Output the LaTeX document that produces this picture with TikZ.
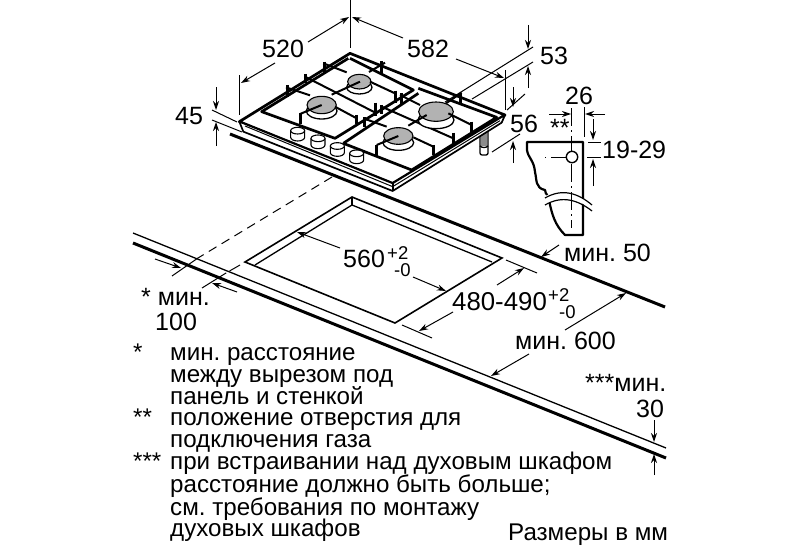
\documentclass[tikz,border=0pt]{standalone}
\usepackage{fontspec}
\setmainfont{Liberation Sans}
\usetikzlibrary{arrows.meta}
\frenchspacing
\tikzset{
  dim/.style={line width=1pt,-{Stealth[length=9pt,width=6pt]}},
  ext/.style={line width=1pt},
  thin edge/.style={line width=1.3pt},
  thick edge/.style={line width=3pt},
  hobline/.style={line width=1.7pt,line join=round},
  hobthick/.style={line width=2.7pt,line join=round},
  bar/.style={line width=2pt},
  tab/.style={line width=3pt},
  burner/.style={draw=black,line width=1.1pt,fill=black!30},
  big/.style={font=\fontsize{25}{25}\selectfont,inner sep=0pt,anchor=base west},
  wide/.style={font=\fontsize{25.8}{25.8}\selectfont,inner sep=0pt,anchor=base west},
  small/.style={font=\fontsize{18.5}{18.5}\selectfont,inner sep=0pt,anchor=base west},
  body/.style={font=\fontsize{24.15}{24.15}\selectfont,inner sep=0pt,anchor=base west},
}
\begin{document}
\begin{tikzpicture}[x=1pt,y=-1pt]
\useasboundingbox (0,0) rectangle (800,551);
\fill[white] (0,0) rectangle (800,551);
% foot
\draw[line width=1.3pt,fill=white,rounded corners=2pt] (480,133) -- (480,155) -- (488,155) -- (488,131);
\fill[black!45] (481,133) rectangle (487,146);
\draw[line width=1.3pt] (480,146) .. controls (482,148) and (486,148) .. (488,146);
% ---------- hob, in crop coordinates
\begin{scope}[shift={(200,10)},x=0.33333pt,y=-0.33333pt]
  \draw[hobthick,fill=white] (118,335) -- (450,130) -- (915,315) -- (578,520) -- cycle;
  \draw[hobline,fill=white] (118,335) -- (130,365) -- (578,543) -- (905,338) -- (915,315) -- (578,520) -- cycle;
  \draw[hobline] (578,520) -- (578,543);
  \draw[line width=1pt] (135,348) -- (578,530) -- (900,332);
  % left grate
  \draw[hobthick] (445,145) -- (185,305) -- (405,385) -- (640,240) -- (450,145);
  % right grate
  \draw[hobthick] (655,235) -- (890,322) -- (635,480) -- (430,400);
  \draw[hobthick] (430,400) -- (655,250);
  % bars
  \draw[bar] (315,200) -- (530,310);
  \draw[tab] (315,192) -- (315,218);
  \draw[tab] (525,278) -- (525,318);
  \draw[bar] (370,160) -- (440,187);
  \draw[tab] (372,155) -- (372,192);
  \draw[tab] (585,242) -- (585,278);
  \draw[bar] (258,232) -- (330,256);
  \draw[tab] (262,225) -- (262,262);
  \draw[tab] (470,315) -- (470,342);
  \draw[bar] (555,158) -- (507,186);
  \draw[tab] (545,153) -- (545,192);
  \draw[tab] (300,310) -- (300,342);
  \draw[bar] (490,325) -- (560,350);
  \draw[tab] (492,322) -- (492,352);
  \draw[bar] (545,290) -- (760,385);
  \draw[tab] (545,285) -- (545,312);
  \draw[tab] (760,368) -- (760,402);
  \draw[bar] (600,255) -- (660,285);
  \draw[tab] (605,250) -- (605,285);
  \draw[tab] (815,335) -- (815,365);
  \draw[tab] (700,405) -- (700,435);
  \draw[bar] (785,248) -- (738,280);
  \draw[tab] (780,248) -- (780,286);
  \draw[tab] (530,405) -- (530,437);
  % burner rings and caps
  \foreach \x/\y/\rx/\ry in {478/232/38/20,365/303/46/24,708/330/54/26,595/398/46/23}{
    \draw[line width=1.3pt,fill=white] (\x,\y) ellipse[x radius=\rx,y radius=\ry];
  }
  \draw[burner] (478,215) ellipse[x radius=35,y radius=22];
  \draw[burner] (365,285) ellipse[x radius=44,y radius=26];
  \draw[burner] (708,305) ellipse[x radius=52,y radius=29];
  \draw[burner] (595,378) ellipse[x radius=44,y radius=25];
  \draw[bar] (480,215) -- (395,254);
  \draw[bar] (365,285) -- (300,312);
  \draw[bar] (680,315) -- (625,347);
  \draw[bar] (595,378) -- (530,405);
  \draw[bar] (745,310) -- (815,345);
  \draw[bar] (510,215) -- (585,250);
  \draw[bar] (405,290) -- (470,325);
  \draw[bar] (640,382) -- (700,410);
  % knobs
  \foreach \x/\y in {293/372,354/395,412/418,470/440}{
    \draw[line width=1.1pt,fill=white] (\x-21,\y-10) -- (\x-21,\y+10)
       arc[start angle=180,end angle=360,x radius=21,y radius=-11] -- (\x+21,\y-10);
    \draw[line width=1.1pt,fill=white] (\x,\y-10) ellipse[x radius=21,y radius=10];
  }
\end{scope}
% ---------- hob dimensions
\draw[ext] (350,0) -- (350,48);
\draw[ext] (239,75) -- (239,115);
\draw[ext] (505,70) -- (505,110);
\draw[dim] (308,42) -- (349,17);
\draw[dim] (275,63) -- (241,83);
\draw[dim] (403,38) -- (352,17);
\draw[dim] (456,59) -- (504,78);
\draw[ext] (445,102) -- (533,47);
\draw[ext] (472,99) -- (533,62);
\draw[dim] (528,25) -- (528,49);
\draw[dim] (528,88) -- (528,66);
\draw[ext] (507,110) -- (525,94);
\draw[ext] (492,152) -- (520,134);
\draw[dim] (513,87) -- (513,107);
\draw[dim] (513,163) -- (513,141);
\draw[ext] (212,110) -- (237,122);
\draw[ext] (212,120) -- (242,132);
\draw[dim] (216,87) -- (216,110);
\draw[dim] (216,146) -- (216,122);
\node[big] (t520) at (262,58) {520};
\node[big] (t582) at (407,58) {582};
\node[big] (t53) at (540,64) {53};
\node[big] (t56) at (510,132) {56};
\node[big] (t45) at (175,124) {45};
% ---------- section
\draw[line width=2.2pt,line join=round] (527,142) -- (583,142) -- (583,235) -- (565,235)
  .. controls (555,225) and (552,215) .. (549,200) .. controls (547,192) and (546,196) .. (545,190)
  .. controls (535,188) and (537,180) .. (535,172) .. controls (534,160) and (528,158) .. (527,150) -- cycle;
\fill[white] (543,197) .. controls (565,186) and (580,195) .. (592,205) -- (592,211) .. controls (580,200) and (565,192) .. (545,205) -- cycle;
\draw[line width=1.2pt] (545,198) .. controls (562,188) and (578,193) .. (592,205);
\draw[line width=1.2pt] (545,205) .. controls (562,195) and (578,200) .. (592,211);
\draw[ext,dash pattern=on 18pt off 4pt on 2pt off 4pt] (571.5,108) -- (571.5,228);
\draw[ext] (545,157) -- (546,157);
\draw[ext] (551,157) -- (567,157);
\draw[line width=1.4pt,fill=white] (572,157) circle[radius=5.7];
\draw[ext] (584,107) -- (584,137);
\draw[dim] (549,114) -- (571,114);
\draw[dim] (605,114) -- (585,114);
\draw[ext] (588,142) -- (601,142);
\draw[ext] (587,157) -- (601,157);
\draw[dim] (593,119) -- (593,140);
\draw[dim] (593,186) -- (593,159);
\node[big] (t26) at (565,104) {26};
\node[big] (tss) at (550,136) {**};
\node[big] (t1929) at (602,158) {19-29};
% ---------- worktop
\draw[thick edge] (230,134) -- (665,307);
\draw[thin edge] (133,233) -- (666,448);
\draw[thick edge] (133,243) -- (666,458);
\draw[line width=1.6pt] (352,197) -- (245,262) -- (395,323) -- (502,258) -- cycle;
\draw[line width=1.3pt] (255,265) -- (352,205) -- (492,262);
\draw[line width=1.3pt] (352,197) -- (352,205);
\draw[ext,dash pattern=on 9pt off 6pt] (332,177) -- (198,258);
\draw[ext] (198,258) -- (172,276);
\draw[ext,dash pattern=on 12pt off 4pt] (240,265) -- (226,273);
\draw[ext] (226,273) -- (202,288);
\draw[dim] (155,259) -- (181,268);
\draw[dim] (237,292) -- (212,283);
\draw[dim] (340,248) -- (297,232);
\draw[dim] (413,277) -- (446,291);
\draw[ext] (506,260) -- (537,273);
\draw[ext] (402,325) -- (432,338);
\draw[dim] (497,285) -- (524,268);
\draw[dim] (453,312) -- (419,331);
\draw[dim] (565,330) -- (626,293);
\draw[dim] (529,354) -- (491,376);
\draw[dim] (559,245) -- (541,257);
\draw[dim] (654,420) -- (654,442);
\draw[dim] (654,475) -- (654,454);
\node[big] (t560) at (343,267) {560};
\node[small] (tp2a) at (387,259) {+2};
\node[small] (tm0a) at (394,276) {-0};
\node[wide] (t480) at (452,310) {480-490};
\node[small] (tp2b) at (548,301) {+2};
\node[small] (tm0b) at (559,318) {-0};
\node[big] (tm50) at (564,261) {мин. 50};
\node[big] (tm600) at (515,349) {мин. 600};
\node[big] (tm30) at (585,391) {***мин.};
\node[big] (t30) at (636,417) {30};
\node[big] (tm100) at (141,305) {* мин.};
\node[big] (t100) at (155,330) {100};
% ---------- notes
\node[body] (n0) at (133,360) {*};
\node[body] (n1) at (170,360) {мин. расстояние};
\node[body] (n2) at (170,382) {между вырезом под};
\node[body] (n3) at (170,404) {панель и стенкой};
\node[body] (n4) at (133,425) {**};
\node[body] (n5) at (170,425) {положение отверстия для};
\node[body] (n6) at (170,447) {подключения газа};
\node[body] (n7) at (133,469) {***};
\node[body] (n8) at (170,469) {при встраивании над духовым шкафом};
\node[body] (n9) at (170,492) {расстояние должно быть больше;};
\node[body] (n10) at (170,515) {см. требования по монтажу};
\node[body] (n11) at (170,536) {духовых шкафов};
\node[body] (n12) at (508,540) {Размеры в мм};
\end{tikzpicture}
\end{document}
